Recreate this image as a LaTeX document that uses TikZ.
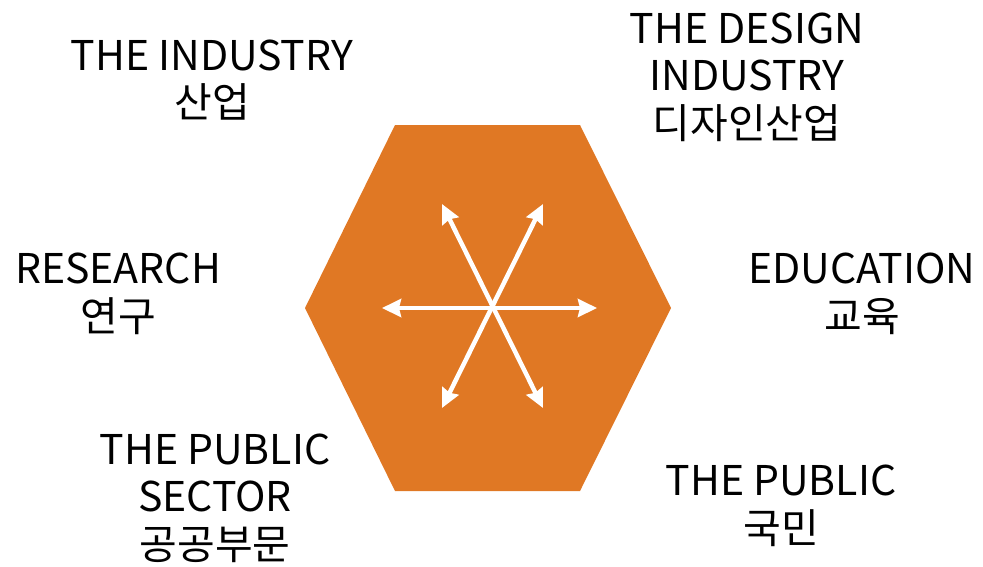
\documentclass[tikz,border=0pt]{standalone}
\usepackage{fontspec}
\setmainfont{Noto Sans CJK KR}
\usetikzlibrary{arrows.meta}

\definecolor{hexorange}{RGB}{224,120,36}

\begin{document}
\begin{tikzpicture}[x=1pt, y=-1pt,
  label text/.style={align=center, inner sep=0pt, font=\fontsize{41}{47.5}\selectfont},
  white arrow/.style={draw=white, line width=4.5pt, {Stealth[length=19pt,width=18pt,inset=2pt]}-{Stealth[length=19pt,width=18pt,inset=2pt]}}]

\useasboundingbox (0,0) rectangle (983,566);

% Define hexagon corners
\coordinate (L) at (305, 308);
\coordinate (TL) at (395, 125);
\coordinate (TR) at (580, 125);
\coordinate (R) at (671, 308);
\coordinate (BR) at (580, 491);
\coordinate (BL) at (395, 491);

% Draw the hexagon
\fill[hexorange] (L) -- (TL) -- (TR) -- (R) -- (BR) -- (BL) -- cycle;

% Arrow tips
\coordinate (W) at (382, 308);
\coordinate (E) at (597, 308);
\coordinate (NW) at (442, 204);
\coordinate (NE) at (543, 204);
\coordinate (SW) at (442, 408);
\coordinate (SE) at (543, 408);

% Draw the three double arrows
\draw[white arrow] (W) -- (E);
\draw[white arrow] (NW) -- (SE);
\draw[white arrow] (NE) -- (SW);

% Labels round the hexagon
\node[label text] (industry) at (212, 80) {THE INDUSTRY\\산업};
\node[label text] (design) at (747, 77) {THE DESIGN\\INDUSTRY\\디자인산업};
\node[label text] (research) at (118, 294) {RESEARCH\\연구};
\node[label text] (education) at (862, 294) {EDUCATION\\교육};
\node[label text] (sector) at (215, 498) {THE PUBLIC\\SECTOR\\공공부문};
\node[label text] (public) at (781, 506) {THE PUBLIC\\국민};

\end{tikzpicture}
\end{document}
